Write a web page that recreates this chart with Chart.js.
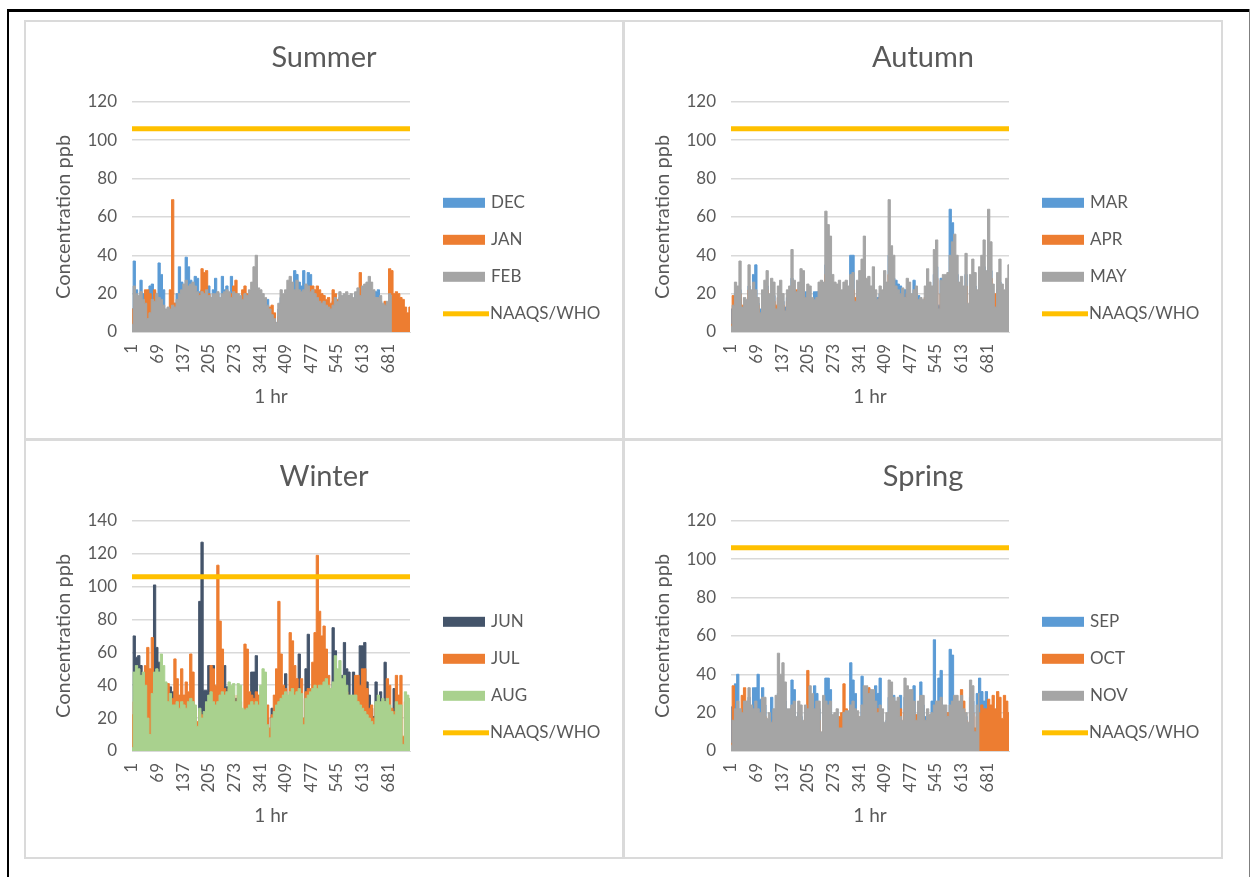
<!DOCTYPE html>
<html>
<head>
<meta charset="utf-8">
<title>Hourly concentration by season</title>
<script src="https://cdn.jsdelivr.net/npm/chart.js@4.4.1/dist/chart.umd.min.js"></script>
<style>
  html, body { margin: 0; padding: 0; background: #ffffff; }
  body { width: 1250px; height: 877px; position: relative; overflow: hidden; }
  .rule { position: absolute; background: #000000; }
  .panel { position: absolute; box-sizing: border-box; width: 600px; height: 420px;
           border: 2px solid #dadada; background: #ffffff; }
  .panel canvas { display: block; }
</style>
</head>
<body>
<div class="rule" style="left:7px;top:9px;width:1243px;height:3px"></div>
<div class="rule" style="left:7px;top:9px;width:2px;height:868px"></div>
<div class="rule" style="left:1249px;top:9px;width:1px;height:868px;background:#7f7f7f"></div>

<div class="panel" style="left:24px;top:20px"><canvas id="summer" width="596" height="416"></canvas></div>
<div class="panel" style="left:623px;top:20px"><canvas id="autumn" width="596" height="416"></canvas></div>
<div class="panel" style="left:24px;top:439px"><canvas id="winter" width="596" height="416"></canvas></div>
<div class="panel" style="left:623px;top:439px"><canvas id="spring" width="596" height="416"></canvas></div>

<script>
// Hourly readings sampled every 6 hours (hour 1, 7, 13, ...), in ppb.
const STEP_HOURS = 6;
const FIRST_HOUR = 1;
const LAST_HOUR = 739;
const hourTicks = [1, 69, 137, 205, 273, 341, 409, 477, 545, 613, 681];
const NAAQS_LIMIT = 106;

// Summer
const decValues = [12,37,22,18,27,20,16,18,24,25, 21,14,36,30,22,10,12,13,12,15, 20,34,26,24,39,34,27,22,29,28,
  21,22,20,18,24,14,22,28,20,17, 29,22,24,17,29,19,18,16,14,18, 20,16,18,20,24,25,18,17,16,15,
  17,10,8,8,5,12,18,16,18,22, 24,20,32,30,26,24,32,22,31,30, 20,18,20,17,15,14,16,14,12,16,
  15,14,18,17,19,18,19,18,15,20, 21,17,18,20,19,20,18,19,21,22, 16,14,12,14,18,15,14,12,12,10,
  11,9,8,8];
const janValues = [12,10,14,12,15,14,22,22,20,12, 22,10,12,14,12,8,10,22,69,15, 12,15,18,16,20,22,20,18,20,18,
  20,33,31,32,20,12,15,18,16,15, 14,18,16,14,20,24,27,15,16,22, 24,20,16,15,18,16,15,14,12,13,
  10,13,14,10,4,8,14,12,14,18, 18,16,18,20,16,15,18,20,22,24, 24,22,24,22,20,19,17,18,15,22,
  20,17,14,15,14,13,14,15,12,14, 16,31,20,18,16,18,15,16,14,13, 12,12,16,12,33,32,20,21,20,18,
  17,13,10,13];
const febValues = [4,24,20,19,21,17,15,7,10,17, 16,20,18,17,14,12,13,12,14,13, 17,20,22,25,27,24,25,26,24,21,
  19,21,20,22,19,18,20,20,21,18, 20,21,22,21,18,21,20,20,19,17, 20,19,22,26,34,40,23,22,20,18,
  14,12,9,7,5,15,22,20,22,27, 29,26,22,27,22,21,22,25,24,21, 22,20,18,16,15,16,14,13,12,14,
  18,16,21,19,20,21,19,20,18,21, 23,19,24,25,26,29,26,22,18,18, 19,15,14,16,20,19];

// Autumn
const marValues = [12,10,20,18,22,11,14,13,24,18, 30,35,15,12,18,20,24,16,20,19, 10,18,20,16,13,18,19,28,20,17,
  20,24,22,21,19,18,15,21,21,20, 22,20,35,40,30,24,20,18,21,18, 20,21,18,40,40,14,20,24,26,30,
  22,20,18,24,18,18,20,18,24,20, 40,30,28,27,25,24,20,22,21,20, 16,27,20,19,15,14,18,24,20,19,
  30,34,14,28,24,22,25,64,57,38, 30,20,22,18,30,12,22,28,24,18, 26,30,34,24,40,32,20,11,22,26,
  18,16,20,24];
const aprValues = [4,19,18,16,20,14,12,12,22,16, 18,16,14,8,16,20,22,14,18,16, 14,18,20,14,9,16,18,24,18,22,
  18,20,22,16,18,16,14,14,15,18, 20,18,30,28,24,22,18,16,20,16, 18,20,16,20,22,18,20,22,26,28,
  20,18,16,22,16,14,18,16,22,18, 30,28,24,18,16,15,18,14,20,18, 15,16,18,14,12,13,18,22,18,16,
  24,28,10,20,22,20,24,26,28,30, 24,18,20,16,24,12,20,24,22,16, 22,24,26,20,30,28,18,20,20,24];
const mayValues = [3,14,26,24,37,13,18,17,35,22, 26,22,18,10,22,27,32,20,28,26, 12,24,27,20,11,22,24,43,27,21,
  26,33,32,18,25,24,18,17,18,26, 27,26,63,56,50,30,26,25,27,22, 26,27,24,30,31,16,27,32,38,50,
  28,29,24,34,22,17,24,22,32,26, 69,45,40,24,22,20,23,18,28,26, 20,22,24,17,18,17,24,33,26,24,
  43,48,12,27,30,30,31,40,47,51, 40,26,29,24,41,15,30,38,31,22, 34,40,48,32,64,47,25,13,31,38,
  25,22,28,35];

// Winter
const junValues = [10,70,57,58,52,44,30,25,20,30, 101,63,54,40,40,30,28,39,36,26, 28,30,26,25,24,26,28,26,24,14,
  91,127,37,37,52,30,52,24,28,30, 30,52,39,30,30,32,32,30,25,20, 22,24,26,48,48,58,26,28,30,32,
  20,10,26,22,26,28,30,30,47,28, 30,34,30,32,59,32,14,50,71,32, 34,36,34,36,34,36,38,38,34,75,
  61,46,44,46,66,50,48,24,48,30, 28,64,64,66,42,34,26,21,42,28, 36,28,54,30,26,22,38,28,26,5];
const julValues = [22,30,40,30,40,38,52,63,50,69, 40,45,40,38,35,38,41,30,32,56, 44,34,50,34,42,36,59,48,26,18,
  24,22,14,28,30,52,50,40,113,79, 62,38,30,38,36,34,28,34,30,24, 65,62,36,34,32,36,34,30,40,44,
  28,14,22,34,50,91,59,40,38,30, 72,67,52,44,36,44,20,36,38,38, 54,72,119,85,70,76,62,46,37,38,
  40,42,40,38,40,36,30,30,30,46, 46,40,50,50,38,26,28,20,28,30, 28,30,30,44,40,26,24,46,34,46,
  9,30,32,30];
const augValues = [2,48,52,50,46,48,40,20,10,35, 48,50,48,59,52,42,30,35,28,28, 30,26,30,28,26,30,32,30,28,15,
  26,20,24,30,34,36,30,28,30,34, 36,34,36,42,40,41,30,41,40,26, 25,26,28,30,28,30,28,40,50,48,
  16,8,20,24,28,30,32,34,36,34, 36,38,34,36,38,35,16,32,34,36, 38,40,38,40,40,42,44,40,38,42,
  58,50,55,44,46,40,34,34,34,34, 30,28,26,24,22,20,18,16,30,34, 30,32,30,32,28,24,22,30,28,28,
  4,36,34,32];

// Spring
const sepValues = [23,20,35,40,20,18,22,22,28,20, 33,33,40,27,33,24,14,16,28,18, 20,30,30,30,26,18,20,37,32,16,
  20,18,14,20,20,28,24,34,30,22, 8,24,38,38,32,13,16,18,10,10, 16,18,18,46,37,30,16,15,39,28,
  26,24,26,26,34,30,38,15,12,16, 28,28,29,22,22,29,14,28,26,24, 24,34,14,20,36,24,18,18,16,26,
  58,24,38,42,22,20,16,53,50,24, 24,22,22,18,18,12,28,26,8,30, 38,31,26,31,22,20,22,20,24,22];
const octValues = [4,34,18,14,12,29,33,20,20,18, 16,20,14,13,20,18,12,12,10,16, 16,20,18,20,18,14,14,16,16,12,
  16,14,12,18,42,20,18,16,18,16, 6,18,18,16,18,12,14,16,18,20, 35,22,16,18,18,16,18,12,18,20,
  22,33,20,20,22,22,20,14,10,14, 20,20,18,18,18,22,12,20,18,18, 20,18,19,18,20,18,14,16,14,14,
  18,20,20,18,18,18,20,18,20,20, 20,20,32,26,16,12,20,20,12,18, 20,24,22,22,27,24,29,22,31,28,
  17,29,26,20];
const novValues = [3,16,22,26,22,20,26,26,33,24, 22,26,22,20,28,28,17,20,15,22, 29,51,40,46,36,22,22,24,26,18,
  26,24,16,24,22,34,30,22,26,26, 10,29,26,24,26,19,20,22,12,12, 20,21,21,24,26,22,21,18,24,34,
  34,30,32,32,26,20,24,22,15,20, 37,36,28,26,28,18,16,38,34,32, 32,26,16,26,29,29,16,22,19,20,
  24,26,26,28,24,24,18,24,26,29, 29,26,29,22,20,15,37,34,10,24, 30];

const TEXT = '#595959';
const FONT = 'Lato, "Noto Sans", sans-serif';
const BLUE = '#5b9bd5', ORANGE = '#ed7d31', GRAY = '#a5a5a5', NAVY = '#44546a', GREEN = '#a9d18e', GOLD = '#ffc000';

// Legend drawn to the right of the plot: wide swatches for areas, a bar for the limit line.
const sideLegend = {
  id: 'sideLegend',
  afterDraw(chart, args, opts) {
    const { ctx, chartArea } = chart;
    const x0 = chartArea.right + opts.offsetX;
    ctx.save();
    ctx.font = `${opts.fontSize}px ${FONT}`;
    ctx.textBaseline = 'middle';
    ctx.textAlign = 'left';
    chart.data.datasets.forEach((ds, i) => {
      const y = chartArea.top + opts.firstY + i * opts.gap;
      ctx.fillStyle = ds.borderColor;
      if (ds.fill) {
        ctx.fillRect(x0, y - 5, 42, 10);
      } else {
        ctx.fillRect(x0, y - 2.5, 46, 5);
      }
      ctx.fillStyle = TEXT;
      ctx.fillText(ds.label, x0 + (ds.fill ? 48 : 47), y);
    });
    ctx.restore();
  }
};

function toPoints(values) {
  return values.map((v, j) => ({ x: FIRST_HOUR + j * STEP_HOURS, y: v }));
}

function buildChart(canvasId, title, months, yMax) {
  const datasets = months.map((m, i) => ({
    label: m.label,
    data: toPoints(m.values),
    borderColor: m.color,
    backgroundColor: m.color,
    borderWidth: 1,
    fill: 'origin',
    stepped: 'middle',
    pointRadius: 0,
    order: months.length - i
  }));
  datasets.push({
    label: 'NAAQS/WHO',
    data: [{ x: FIRST_HOUR, y: NAAQS_LIMIT }, { x: LAST_HOUR, y: NAAQS_LIMIT }],
    borderColor: GOLD,
    backgroundColor: GOLD,
    borderWidth: 5,
    fill: false,
    pointRadius: 0,
    order: 0
  });

  return new Chart(document.getElementById(canvasId), {
    type: 'line',
    data: { datasets },
    plugins: [sideLegend],
    options: {
      responsive: false,
      animation: false,
      devicePixelRatio: 1,
      plugins: {
        legend: { display: false },
        tooltip: { enabled: false },
        title: {
          display: true, text: title, color: TEXT,
          font: { family: FONT, size: 29, weight: 'normal' },
          padding: { top: 18, bottom: 27 }
        },
        sideLegend: { offsetX: 33, firstY: 101, gap: 37, fontSize: 17 }
      },
      scales: {
        x: {
          type: 'linear', min: FIRST_HOUR, max: LAST_HOUR,
          afterBuildTicks: s => { s.ticks = hourTicks.map(v => ({ value: v })); },
          afterFit: s => { s.height = 106; },
          grid: { display: false, drawTicks: false },
          border: { display: true, color: '#d9d9d9' },
          ticks: {
            autoSkip: false, minRotation: 90, maxRotation: 90, padding: 12,
            color: TEXT, font: { family: FONT, size: 17 },
            callback: v => String(v)
          },
          title: {
            display: true, text: '1 hr', color: TEXT,
            font: { family: FONT, size: 19 }, padding: { top: 0, bottom: 30 }
          }
        },
        y: {
          min: 0, max: yMax,
          afterFit: s => { s.width = 106; },
          grid: { color: '#d9d9d9', lineWidth: 1.5, drawTicks: false },
          border: { display: false },
          ticks: { stepSize: 20, padding: 15, color: TEXT, font: { family: FONT, size: 17 } },
          title: {
            display: true, text: 'Concentration ppb', color: TEXT,
            font: { family: FONT, size: 20 }, padding: { top: 26, bottom: 0 }
          }
        },
        // empty right-hand strip that holds the legend
        legendSpace: {
          position: 'right', display: true,
          afterFit: s => { s.width = 212; },
          grid: { display: false, drawTicks: false },
          border: { display: false },
          ticks: { display: false }
        }
      }
    }
  });
}

buildChart('summer', 'Summer', [
  { label: 'DEC', values: decValues, color: BLUE },
  { label: 'JAN', values: janValues, color: ORANGE },
  { label: 'FEB', values: febValues, color: GRAY }
], 120);

buildChart('autumn', 'Autumn', [
  { label: 'MAR', values: marValues, color: BLUE },
  { label: 'APR', values: aprValues, color: ORANGE },
  { label: 'MAY', values: mayValues, color: GRAY }
], 120);

buildChart('winter', 'Winter', [
  { label: 'JUN', values: junValues, color: NAVY },
  { label: 'JUL', values: julValues, color: ORANGE },
  { label: 'AUG', values: augValues, color: GREEN }
], 140);

buildChart('spring', 'Spring', [
  { label: 'SEP', values: sepValues, color: BLUE },
  { label: 'OCT', values: octValues, color: ORANGE },
  { label: 'NOV', values: novValues, color: GRAY }
], 120);
</script>
</body>
</html>
